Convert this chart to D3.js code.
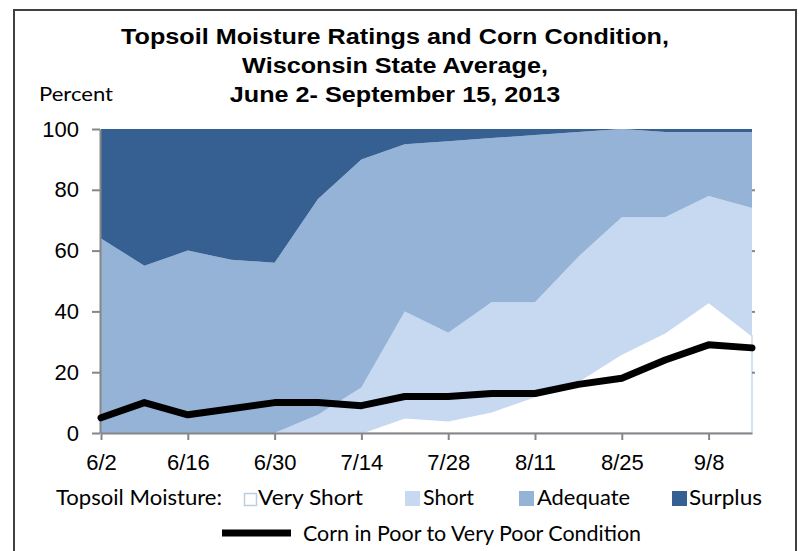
<!DOCTYPE html>
<html lang="en">

<head>
    <meta charset="UTF-8">
    <title>Topsoil Moisture and Corn Condition</title>
    <style>
        body { margin: 0; background: #fff; }
        svg { display: block; }
    </style>
</head>

<body>
    <script src="https://d3js.org/d3.v7.min.js"></script>
    <script>
        // data (percent)
        var dates = ["2013-06-02", "2013-06-09", "2013-06-16", "2013-06-23", "2013-06-30", "2013-07-07",
            "2013-07-14", "2013-07-21", "2013-07-28", "2013-08-04", "2013-08-11", "2013-08-18",
            "2013-08-25", "2013-09-01", "2013-09-08", "2013-09-15"];
        var veryShort = [0, 0, 0, 0, 0, 0, 0, 5, 4, 7, 12, 17, 26, 33, 43, 32];
        var short = [0, 0, 0, 0, 0, 6, 15, 35, 29, 36, 31, 41, 45, 38, 35, 42];
        var adequate = [64, 55, 60, 57, 56, 71, 75, 55, 63, 54, 55, 41, 29, 28, 21, 25];
        var surplus = [36, 45, 40, 43, 44, 23, 10, 5, 4, 3, 2, 1, 0, 1, 1, 1];
        var cornPoor = [5, 10, 6, 8, 10, 10, 9, 12, 12, 13, 13, 16, 18, 24, 29, 28];
        var yTicks = [0, 20, 40, 60, 80, 100];
        var seriesNames = ["Very Short", "Short", "Adequate", "Surplus"];
        var seriesColors = ["#ffffff", "#c6d9f1", "#95b3d7", "#376092"];

        var width = 799, height = 551;
        var svg = d3.select('body').append('svg').attr('width', width).attr('height', height);

        // outer chart border
        svg.append('rect')
            .attr('x', 14).attr('y', 10).attr('width', 782).attr('height', 580)
            .attr('fill', 'none').attr('stroke', '#404040').attr('stroke-width', 2);

        var parse = d3.timeParse('%Y-%m-%d');
        var rows = dates.map(function (d, i) {
            return { date: parse(d), "Very Short": veryShort[i], "Short": short[i], "Adequate": adequate[i], "Surplus": surplus[i], corn: cornPoor[i] };
        });

        var x = d3.scaleTime().domain(d3.extent(rows, function (d) { return d.date; })).range([101, 752]);
        var y = d3.scaleLinear().domain([0, 100]).range([433, 129]);

        // stacked areas
        var stack = d3.stack().keys(seriesNames);
        var layers = stack(rows);
        var area = d3.area()
            .x(function (d) { return x(d.data.date); })
            .y0(function (d) { return y(d[0]); })
            .y1(function (d) { return y(d[1]); });

        svg.append('g').selectAll('path').data(layers).enter().append('path')
            .attr('d', area)
            .attr('fill', function (d, i) { return seriesColors[i]; })
            .attr('stroke', function (d, i) { return i == 0 ? '#c6d9f1' : 'none'; })
            .attr('stroke-width', 1.5);

        // axes
        var gy = svg.append('g').attr('transform', 'translate(100,0)')
            .call(d3.axisLeft(y).tickValues(yTicks).tickSize(8).tickSizeOuter(0).tickPadding(13));
        var gy2 = svg.append('g').attr('transform', 'translate(752,0)')
            .call(d3.axisRight(y).tickValues([20, 40, 60, 80]).tickSize(3).tickFormat(''));
        gy2.select('.domain').remove();

        var xTickDates = rows.filter(function (d, i) { return i % 2 == 0; }).map(function (d) { return d.date; });
        var gx = svg.append('g').attr('transform', 'translate(0,433)')
            .call(d3.axisBottom(x).tickValues(xTickDates).tickFormat(d3.timeFormat('%-m/%-d'))
                .tickSize(7).tickSizeOuter(0).tickPadding(14));

        [gy, gy2, gx].forEach(function (g) {
            g.selectAll('.domain, line').attr('stroke', '#868686').attr('stroke-width', 2);
            g.selectAll('text').attr('font-family', 'Liberation Sans, Arial, sans-serif')
                .attr('font-size', 22).attr('fill', '#000');
        });

        // corn condition line
        var line = d3.line()
            .x(function (d) { return x(d.date); })
            .y(function (d) { return y(d.corn); });
        svg.append('path').datum(rows)
            .attr('d', line)
            .attr('fill', 'none').attr('stroke', '#000').attr('stroke-width', 7)
            .attr('stroke-linejoin', 'round').attr('stroke-linecap', 'round');

        // title (slightly widened, like the original)
        var titleLines = ["Topsoil Moisture Ratings and Corn Condition,", "Wisconsin State Average,", "June 2- September 15, 2013"];
        svg.append('g').attr('transform', 'translate(395,0) scale(1.12,1)')
            .selectAll('text').data(titleLines).enter().append('text')
            .attr('x', 0)
            .attr('y', function (d, i) { return 44 + i * 29; })
            .attr('text-anchor', 'middle')
            .attr('font-family', 'Liberation Sans, Arial, sans-serif')
            .attr('font-weight', 'bold').attr('font-size', 22.5)
            .text(function (d) { return d; });

        svg.append('text').attr('x', 39).attr('y', 101)
            .attr('textLength', 74).attr('lengthAdjust', 'spacingAndGlyphs')
            .attr('font-family', 'Lato, sans-serif').attr('font-size', 19)
            .text('Percent');

        // legend
        var legendFont = 'Lato, sans-serif';
        svg.append('text').attr('x', 56).attr('y', 505)
            .attr('textLength', 166).attr('lengthAdjust', 'spacingAndGlyphs')
            .attr('font-family', legendFont).attr('font-size', 21)
            .text('Topsoil Moisture:');

        var legendItems = [
            { box: 243, tx: 258, len: 105 },
            { box: 405, tx: 423, len: 51 },
            { box: 519, tx: 537, len: 93 },
            { box: 672, tx: 689, len: 73 }
        ];
        var leg = svg.append('g').selectAll('g').data(legendItems).enter().append('g');
        leg.append('rect')
            .attr('x', function (d, i) { return i == 0 ? d.box + 1.5 : d.box; })
            .attr('y', function (d, i) { return i == 0 ? 493.5 : 491; })
            .attr('width', function (d, i) { return i == 0 ? 12 : 15; })
            .attr('height', function (d, i) { return i == 0 ? 12 : 15; })
            .attr('fill', function (d, i) { return seriesColors[i]; })
            .attr('stroke', function (d, i) { return i == 0 ? '#b9cde5' : 'none'; })
            .attr('stroke-width', 1.5);
        leg.append('text')
            .attr('x', function (d) { return d.tx; }).attr('y', 505)
            .attr('textLength', function (d) { return d.len; }).attr('lengthAdjust', 'spacingAndGlyphs')
            .attr('font-family', legendFont).attr('font-size', 21)
            .text(function (d, i) { return seriesNames[i]; });

        svg.append('line').attr('x1', 222).attr('x2', 291).attr('y1', 533).attr('y2', 533)
            .attr('stroke', '#000').attr('stroke-width', 7);
        svg.append('text').attr('x', 303).attr('y', 541)
            .attr('textLength', 338).attr('lengthAdjust', 'spacingAndGlyphs')
            .attr('font-family', legendFont).attr('font-size', 21)
            .text('Corn in Poor to Very Poor Condition');
    </script>
</body>

</html>
